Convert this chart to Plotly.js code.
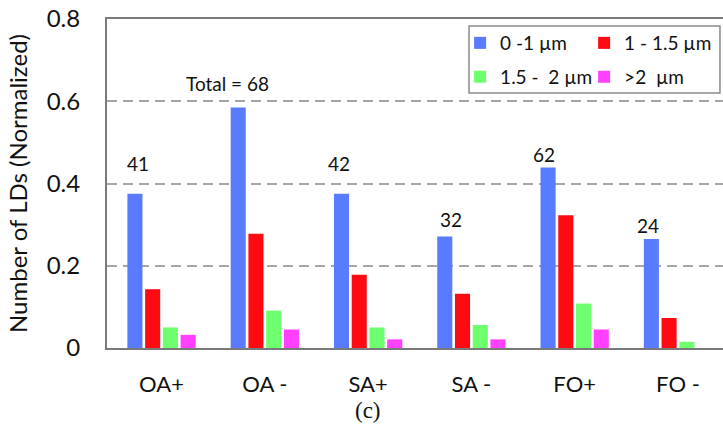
<!DOCTYPE html>
<html>
<head>
<meta charset="utf-8">
<script src="https://cdn.plot.ly/plotly-3.0.1.min.js"></script>
<style>
  html, body { margin: 0; padding: 0; background: #fff; }
  #chart { width: 723px; height: 425px; }
</style>
</head>
<body>
<div id="chart"></div>
<script>
// Lipid droplet size distribution per condition (normalized counts)
const categories = ['OA+', 'OA -', 'SA+', 'SA -', 'FO+', 'FO -'];
const sizeBins = ['0 -1 µm', '1 - 1.5 µm', '1.5 -\u00a0 2 µm', '>2\u00a0 µm'];
const frac0to1   = [0.375, 0.585, 0.375, 0.271, 0.439, 0.265];
const frac1to15  = [0.143, 0.278, 0.178, 0.132, 0.323, 0.073];
const frac15to2  = [0.050, 0.091, 0.050, 0.056, 0.108, 0.015];
const fracOver2  = [0.032, 0.045, 0.021, 0.021, 0.045, 0.000];
const totals     = [41, 68, 42, 32, 62, 24];
const yTicks     = [0, 0.2, 0.4, 0.6, 0.8];

// ---- styling ----
const binColors = ['#587BFF', '#FF0A12', '#6EFF6E', '#FF40FF'];
// two legend rows: first row holds the two smaller bins, second row the larger ones
const legendRow = ['legend', 'legend', 'legend2', 'legend2'];
const textColor = '#111111';
const axisColor = '#7a7a7a';
const sansFont = 'Lato, "Open Sans", sans-serif';
// small per-label nudges (px) for the count labels above the first bar
const labelNudgeX = [3, -11, -2, 6, -4, -3];
const labelNudgeY = [30, 24, 30, 17, 13, 14];

const series = [frac0to1, frac1to15, frac15to2, fracOver2];

const traces = series.map((vals, i) => ({
  type: 'bar',
  name: sizeBins[i],
  x: categories,
  y: vals,
  marker: { color: binColors[i], line: { width: 0 } },
  legend: legendRow[i],
  hoverinfo: 'skip'
}));

// the first bar of each group sits 1.5 slots left of the category centre
const slotShift = -1.5 * 103.3 * (1 - 0.313) / 4;

const countLabels = categories.map((c, i) => ({
  x: c,
  y: frac0to1[i],
  xref: 'x',
  yref: 'y',
  text: i === 1 ? 'Total = ' + totals[i] : String(totals[i]),
  showarrow: false,
  xanchor: 'center',
  yanchor: 'middle',
  xshift: slotShift + labelNudgeX[i],
  yshift: labelNudgeY[i],
  font: { family: sansFont, size: 19, color: textColor }
}));

const caption = {
  x: 'SA+',
  xref: 'x',
  y: -0.19,
  yref: 'paper',
  text: '(c)',
  showarrow: false,
  xanchor: 'center',
  yanchor: 'middle',
  font: { family: '"Liberation Serif", "DejaVu Serif", serif', size: 23, color: textColor }
};

const legendStyle = (yc) => ({
  orientation: 'h',
  x: 0.5911,
  y: yc,
  xanchor: 'left',
  yanchor: 'middle',
  bgcolor: 'rgba(0,0,0,0)',
  borderwidth: 0,
  entrywidth: 90,
  indentation: -11,
  font: { family: sansFont, size: 19, color: textColor }
});

const layout = {
  width: 723,
  height: 425,
  margin: { l: 107, r: 0, t: 19, b: 77, pad: 0 },
  paper_bgcolor: '#ffffff',
  plot_bgcolor: '#ffffff',
  barmode: 'group',
  bargap: 0.313,
  bargroupgap: 0.15,
  showlegend: true,
  legend: legendStyle(0.927),
  legend2: legendStyle(0.824),
  shapes: [{
    type: 'rect',
    xref: 'paper', yref: 'paper',
    x0: 0.5877, x1: 0.9951, y0: 0.775, y1: 0.9787,
    line: { color: '#8a8a8a', width: 1.5 },
    fillcolor: '#ffffff',
    layer: 'above'
  }],
  xaxis: {
    type: 'category',
    range: [-0.528, 5.436],
    showline: true,
    linecolor: axisColor,
    linewidth: 2,
    mirror: true,
    showgrid: false,
    zeroline: false,
    ticks: '',
    ticklabelstandoff: 16,
    tickfont: { family: sansFont, size: 22, color: textColor }
  },
  yaxis: {
    range: [0, 0.8],
    tickvals: yTicks,
    ticktext: yTicks.map(v => String(v)),
    showline: true,
    linecolor: axisColor,
    linewidth: 2,
    mirror: false,
    showgrid: true,
    gridcolor: '#a6a6a6',
    gridwidth: 2,
    griddash: '10px,6px',
    zeroline: false,
    ticks: '',
    ticklabelstandoff: 20,
    tickfont: { family: sansFont, size: 24, color: textColor },
    title: {
      text: 'Number of LDs (Normalized)',
      font: { family: sansFont, size: 24, color: textColor },
      standoff: 12
    }
  },
  annotations: countLabels.concat([caption])
};

Plotly.newPlot('chart', traces, layout, { displayModeBar: false, staticPlot: true });
</script>
</body>
</html>
